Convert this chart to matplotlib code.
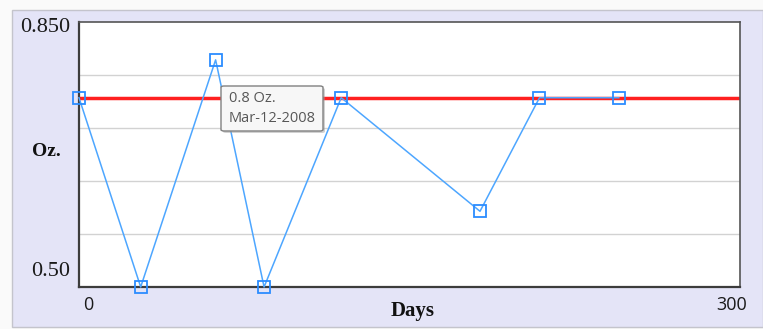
import matplotlib.pyplot as plt
from matplotlib.patches import Rectangle, FancyBboxPatch

days = [0, 28, 62, 84, 119, 182, 209, 245]
oz = [0.75, 0.5, 0.8, 0.5, 0.75, 0.6, 0.75, 0.75]
target = 0.75
grid_vals = [0.78, 0.71, 0.64, 0.57]
tip_lines = ["0.8 Oz.", "Mar-12-2008"]

W, H = 763, 329


def px(x, y):
    return x / W, 1 - y / H


fig = plt.figure(figsize=(W / 100, H / 100), dpi=100, facecolor='#fafafa')

# lavender panel behind the chart
fig.patches.append(Rectangle(px(12, 327), (W - 12) / W, 317 / H, transform=fig.transFigure,
                             facecolor='#e4e4f7', edgecolor='#c4c4cc', lw=1.0, zorder=-5))

x0, y0 = px(79, 287)
x1, y1 = px(740, 22)
ax = fig.add_axes([x0, y0, x1 - x0, y1 - y0])
ax.set_zorder(1)
ax.set_facecolor('white')
ax.set_xlim(0, 300)
ax.set_ylim(0.5, 0.85)

for g in grid_vals:
    ax.axhline(g, color='#d2d2d2', lw=1.0, zorder=1)

ax.axhline(target, color='#ff2020', lw=2.5, zorder=2)
ax.plot(days, oz, color='#4da6ff', lw=1.1, marker='s', markersize=8,
        markerfacecolor='none', markeredgecolor='#2b8cff', markeredgewidth=1.3,
        zorder=3, clip_on=False)

ax.set_xticks([])
ax.set_yticks([])
for side in ['left', 'bottom']:
    ax.spines[side].set_color('#3c3c3c')
    ax.spines[side].set_linewidth(1.6)
for side in ['top', 'right']:
    ax.spines[side].set_color('#555555')
    ax.spines[side].set_linewidth(1.2)

serif = 'Liberation Serif'
sans = 'Open Sans'
fig.text(*px(70, 28), "0.850", ha='right', va='center', fontsize=16, family=serif, color='#1a1a1a')
fig.text(*px(70, 271), "0.50", ha='right', va='center', fontsize=16, family=serif, color='#1a1a1a')
fig.text(*px(88, 305), "0", ha='center', va='center', fontsize=13, family=sans, color='#1a1a1a')
fig.text(*px(747, 305), "300", ha='right', va='center', fontsize=13, family=sans, color='#1a1a1a')
fig.text(*px(46, 151), "Oz.", ha='center', va='center', fontsize=14, family=serif,
         weight='bold', color='#111111')
fig.text(*px(413, 311), "Days", ha='center', va='center', fontsize=15, family=serif,
         weight='bold', color='#111111')

# tooltip
sx, sy = px(223, 133)
fig.patches.append(FancyBboxPatch((sx, sy), 102 / W, 45 / H, boxstyle='round,pad=0,rounding_size=0.004',
                                  transform=fig.transFigure, facecolor='#9a9a9a', edgecolor='none',
                                  alpha=0.45, zorder=5))
bx, by = px(221, 131)
fig.patches.append(FancyBboxPatch((bx, by), 102 / W, 45 / H, boxstyle='round,pad=0,rounding_size=0.004',
                                  transform=fig.transFigure, facecolor='#f7f7f7', edgecolor='#808080',
                                  lw=1.0, zorder=6))
fig.text(*px(229, 98), tip_lines[0], ha='left', va='center', fontsize=10.5, family=sans,
         color='#575757', zorder=7)
fig.text(*px(229, 118), tip_lines[1], ha='left', va='center', fontsize=10.5, family=sans,
         color='#575757', zorder=7)

fig.savefig('out.png', dpi=100, facecolor=fig.get_facecolor())
